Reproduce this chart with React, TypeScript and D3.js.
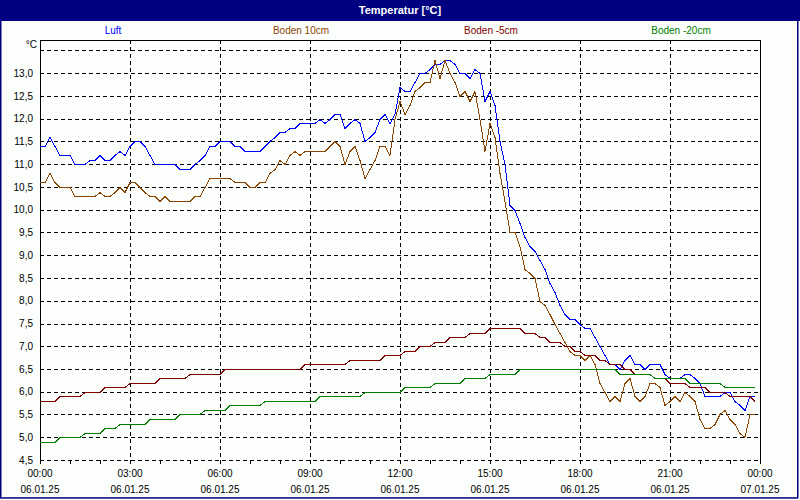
import React from "react";
import * as d3 from "d3";

// 10-minute samples, 00:00 .. 23:50 on 06.01.25
const luft = [
  11.4, 11.4, 11.6, 11.4, 11.2, 11.2, 11.2, 11.0, 11.0, 11.0, 11.1, 11.1,
  11.2, 11.1, 11.1, 11.2, 11.3, 11.2, 11.4, 11.5, 11.5, 11.4, 11.2, 11.0,
  11.0, 11.0, 11.0, 11.0, 10.9, 10.9, 10.9, 11.0, 11.1, 11.2, 11.4, 11.4,
  11.5, 11.5, 11.5, 11.4, 11.4, 11.3, 11.3, 11.3, 11.3, 11.4, 11.5, 11.6,
  11.7, 11.7, 11.8, 11.8, 11.9, 11.9, 11.9, 11.9, 12.0, 11.9, 12.0, 12.1,
  12.1, 11.8, 11.9, 12.0, 11.9, 11.5, 11.6, 11.7, 12.0, 12.1, 11.9, 12.1,
  12.7, 12.6, 12.6, 12.8, 13.0, 13.0, 13.1, 13.2, 13.2, 13.3, 13.3, 13.2,
  13.0, 13.0, 12.9, 13.1, 13.0, 12.4, 12.6, 12.3, 11.5, 11.0, 10.1, 10.0,
  9.7, 9.4, 9.2, 9.1, 8.9, 8.7, 8.4, 8.2, 7.9, 7.7, 7.6, 7.6,
  7.5, 7.4, 7.4, 7.2, 7.0, 6.8, 6.6, 6.6, 6.5, 6.7, 6.8, 6.6,
  6.6, 6.5, 6.6, 6.6, 6.6, 6.4, 6.3, 6.3, 6.3, 6.4, 6.4, 6.3,
  6.2, 5.9, 5.9, 5.9, 5.9, 6.0, 6.0, 5.8, 5.7, 5.6, 5.9, 5.9,
];

const boden10 = [
  10.6, 10.6, 10.8, 10.6, 10.5, 10.5, 10.5, 10.3, 10.3, 10.3, 10.3, 10.3,
  10.4, 10.3, 10.3, 10.4, 10.5, 10.4, 10.6, 10.6, 10.5, 10.4, 10.3, 10.3,
  10.2, 10.3, 10.2, 10.2, 10.2, 10.2, 10.2, 10.3, 10.3, 10.5, 10.7, 10.7,
  10.7, 10.7, 10.7, 10.6, 10.6, 10.6, 10.5, 10.5, 10.6, 10.6, 10.8, 10.9,
  11.1, 11.0, 11.2, 11.3, 11.2, 11.3, 11.3, 11.3, 11.3, 11.3, 11.4, 11.5,
  11.4, 11.0, 11.3, 11.4, 11.1, 10.7, 10.9, 11.1, 11.4, 11.4, 11.2, 12.0,
  12.4, 12.1, 12.3, 12.6, 12.7, 12.8, 12.8, 13.3, 12.9, 13.3, 13.0, 12.8,
  12.5, 12.6, 12.4, 12.6, 12.0, 11.3, 11.9, 11.6, 10.8, 10.2, 9.5, 9.5,
  9.2, 8.7, 8.6, 8.5, 8.0, 7.9, 7.7, 7.5, 7.3, 7.1, 6.9, 6.8,
  6.8, 6.7, 6.8, 6.6, 6.2, 6.0, 5.8, 5.9, 5.8, 6.2, 6.3, 5.9,
  5.8, 5.9, 6.2, 6.2, 6.1, 5.7, 5.8, 5.9, 5.8, 6.0, 5.9, 5.8,
  5.4, 5.2, 5.2, 5.3, 5.5, 5.6, 5.4, 5.3, 5.1, 5.0, 5.5, 5.5,
];

const bodenMinus5 = [
  5.8, 5.8, 5.8, 5.8, 5.9, 5.9, 5.9, 5.9, 5.9, 6.0, 6.0, 6.0,
  6.0, 6.1, 6.1, 6.1, 6.1, 6.1, 6.2, 6.2, 6.2, 6.2, 6.2, 6.2,
  6.3, 6.3, 6.3, 6.3, 6.3, 6.3, 6.4, 6.4, 6.4, 6.4, 6.4, 6.4,
  6.4, 6.5, 6.5, 6.5, 6.5, 6.5, 6.5, 6.5, 6.5, 6.5, 6.5, 6.5,
  6.5, 6.5, 6.5, 6.5, 6.5, 6.6, 6.6, 6.6, 6.6, 6.6, 6.6, 6.6,
  6.6, 6.6, 6.7, 6.7, 6.7, 6.7, 6.7, 6.7, 6.7, 6.8, 6.8, 6.8,
  6.8, 6.9, 6.9, 6.9, 7.0, 7.0, 7.0, 7.1, 7.1, 7.1, 7.2, 7.2,
  7.2, 7.2, 7.3, 7.3, 7.3, 7.3, 7.4, 7.4, 7.4, 7.4, 7.4, 7.4,
  7.4, 7.3, 7.3, 7.3, 7.2, 7.2, 7.1, 7.1, 7.1, 7.0, 7.0, 6.9,
  6.9, 6.8, 6.8, 6.8, 6.7, 6.7, 6.6, 6.6, 6.6, 6.5, 6.5, 6.4,
  6.4, 6.4, 6.4, 6.3, 6.3, 6.3, 6.2, 6.2, 6.2, 6.2, 6.1, 6.1,
  6.1, 6.1, 6.0, 6.0, 6.0, 6.0, 5.9, 5.9, 5.9, 5.9, 5.9, 5.8,
];

const bodenMinus20 = [
  4.9, 4.9, 4.9, 4.9, 5.0, 5.0, 5.0, 5.0, 5.0, 5.1, 5.1, 5.1,
  5.1, 5.2, 5.2, 5.2, 5.3, 5.3, 5.3, 5.3, 5.3, 5.3, 5.4, 5.4,
  5.4, 5.4, 5.4, 5.4, 5.5, 5.5, 5.5, 5.5, 5.5, 5.6, 5.6, 5.6,
  5.6, 5.6, 5.7, 5.7, 5.7, 5.7, 5.7, 5.7, 5.7, 5.8, 5.8, 5.8,
  5.8, 5.8, 5.8, 5.8, 5.8, 5.8, 5.8, 5.8, 5.9, 5.9, 5.9, 5.9,
  5.9, 5.9, 5.9, 5.9, 5.9, 6.0, 6.0, 6.0, 6.0, 6.0, 6.0, 6.0,
  6.0, 6.1, 6.1, 6.1, 6.1, 6.1, 6.1, 6.2, 6.2, 6.2, 6.2, 6.2,
  6.2, 6.3, 6.3, 6.3, 6.3, 6.3, 6.4, 6.4, 6.4, 6.4, 6.4, 6.4,
  6.5, 6.5, 6.5, 6.5, 6.5, 6.5, 6.5, 6.5, 6.5, 6.5, 6.5, 6.5,
  6.5, 6.5, 6.5, 6.5, 6.5, 6.5, 6.5, 6.5, 6.4, 6.4, 6.4, 6.4,
  6.4, 6.4, 6.4, 6.3, 6.3, 6.3, 6.3, 6.3, 6.3, 6.3, 6.2, 6.2,
  6.2, 6.2, 6.2, 6.2, 6.2, 6.1, 6.1, 6.1, 6.1, 6.1, 6.1, 6.1,
];

const seriesNames = ["Luft", "Boden 10cm", "Boden -5cm", "Boden -20cm"];
const seriesColors = ["#0000ff", "#8b4500", "#800000", "#008000"];
const seriesData = [luft, boden10, bodenMinus5, bodenMinus20];

const timeLabels = ["00:00", "03:00", "06:00", "09:00", "12:00", "15:00", "18:00", "21:00", "00:00"];
const dateLabels = ["06.01.25", "06.01.25", "06.01.25", "06.01.25", "06.01.25", "06.01.25", "06.01.25", "06.01.25", "07.01.25"];
const yTicks = [4.5, 5.0, 5.5, 6.0, 6.5, 7.0, 7.5, 8.0, 8.5, 9.0, 9.5, 10.0, 10.5, 11.0, 11.5, 12.0, 12.5, 13.0];
const yGrid = [5.0, 5.5, 6.0, 6.5, 7.0, 7.5, 8.0, 8.5, 9.0, 9.5, 10.0, 10.5, 11.0, 11.5, 12.0, 12.5, 13.0, 13.5];
const sampleMinutes = 10;

const W = 800;
const H = 500;
const L = 40, R = 760, T = 40, B = 460;
const FONT = "'Liberation Sans', Arial, sans-serif";

export default function App() {
  const x = d3.scaleLinear().domain([0, 24]).range([L, R]);
  const y = d3.scaleLinear().domain([4.5, 4.5 + (B - T) / 45.5]).range([B, T]);
  const line = d3
    .line<number>()
    .x((_, i) => x((i * sampleMinutes) / 60))
    .y((v) => Math.round(y(v)) + 0.5);
  const hours = d3.range(0, 25);
  const majorHours = hours.filter((h) => h % 3 === 0);
  const legendX = [113, 301, 491, 681];

  return (
    <svg
      width={W}
      height={H}
      style={{ position: "absolute", left: 0, top: 0, display: "block" }}
      fontFamily={FONT}
    >
      <rect x={0} y={0} width={W} height={H} fill="#fbfefb" />
      <rect x={0} y={0} width={W} height={21} fill="#000080" />
      <text x={400} y={14} textAnchor="middle" fill="#ffffff" fontWeight="bold" fontSize={11}>
        Temperatur [°C]
      </text>
      {seriesNames.map((n, i) => (
        <text key={n} x={legendX[i]} y={34} textAnchor="middle" fill={seriesColors[i]} fontSize={10}>
          {n}
        </text>
      ))}

      {/* grid */}
      <g stroke="#000" strokeWidth={1} strokeDasharray="4,3" shapeRendering="crispEdges">
        {yGrid.map((v) => (
          <line key={v} x1={L} x2={R} y1={Math.round(y(v)) + 0.5} y2={Math.round(y(v)) + 0.5} />
        ))}
        {majorHours
          .filter((h) => h > 0 && h < 24)
          .map((h) => (
            <line key={h} x1={x(h) + 0.5} x2={x(h) + 0.5} y1={T} y2={B} />
          ))}
        <line x1={L} x2={R} y1={B + 0.5} y2={B + 0.5} />
      </g>
      {/* frame */}
      <g stroke="#000" strokeWidth={1} shapeRendering="crispEdges" fill="none">
        <line x1={L + 0.5} x2={L + 0.5} y1={T} y2={B + 3} />
        <line x1={L} x2={R + 1} y1={T + 0.5} y2={T + 0.5} />
        <line x1={R + 0.5} x2={R + 0.5} y1={T} y2={B + 3} />
        {hours.map((h) => (
          <line key={h} x1={x(h) + 0.5} x2={x(h) + 0.5} y1={B} y2={B + 4} />
        ))}
      </g>

      {/* y labels */}
      <text x={37} y={48} textAnchor="end" fontSize={10} fill="#000">
        °C
      </text>
      {yTicks.map((v) => (
        <text key={v} x={33} y={y(v) + 3.5} textAnchor="end" fontSize={10} fill="#000">
          {v.toFixed(1).replace(".", ",")}
        </text>
      ))}
      {/* x labels */}
      {majorHours.map((h, i) => (
        <g key={h}>
          <text x={x(h)} y={477} textAnchor="middle" fontSize={10} fill="#000">
            {timeLabels[i]}
          </text>
          <text x={x(h)} y={493} textAnchor="middle" fontSize={10} fill="#000">
            {dateLabels[i]}
          </text>
        </g>
      ))}

      {/* series */}
      {seriesData.map((d, i) => (
        <path
          key={seriesNames[i]}
          d={line(d) || ""}
          fill="none"
          stroke={seriesColors[i]}
          strokeWidth={1}
          shapeRendering="crispEdges"
        />
      ))}

      <rect x={0.75} y={0.75} width={797} height={497.2} fill="none" stroke="#000080" strokeWidth={1.5} />
    </svg>
  );
}
